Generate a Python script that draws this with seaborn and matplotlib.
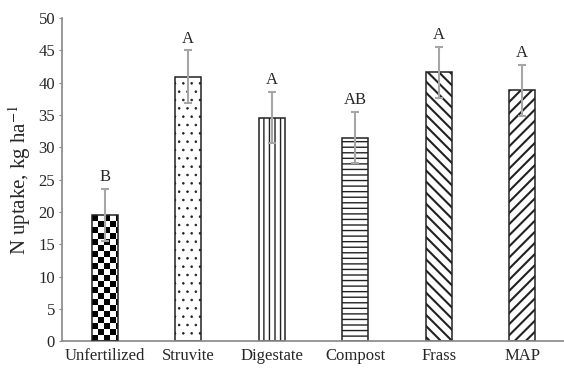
import numpy as np
import pandas as pd
import matplotlib
matplotlib.use("Agg")
import matplotlib.pyplot as plt
import seaborn as sns

# data
treatments = ["Unfertilized", "Struvite", "Digestate", "Compost", "Frass", "MAP"]
n_uptake = [19.5, 40.9, 34.6, 31.5, 41.6, 38.8]
n_err = [4.0, 4.1, 4.0, 4.0, 4.0, 4.0]
letters = ["B", "A", "A", "AB", "A", "A"]

sns.set_style("white")
plt.rcParams["font.family"] = ["Liberation Serif", "DejaVu Serif"]
plt.rcParams["hatch.linewidth"] = 1.0
plt.rcParams["mathtext.fontset"] = "stix"

df = pd.DataFrame({"treatment": treatments, "uptake": n_uptake})

fig = plt.figure(figsize=(5.64, 3.70), dpi=100)
ax = fig.add_axes([0.11, 0.078, 0.89, 0.873])

sns.barplot(data=df, x="treatment", y="uptake", color="white", width=0.31,
            edgecolor="#222222", linewidth=1.1, errorbar=None, ax=ax)

hatches = [None, "..", "|||", "---", "\\\\\\", "///"]
hatch_lw = [1.0, 0.6, 1.0, 1.0, 1.5, 1.5]
hatch_col = ["#222222", "#555555", "#222222", "#222222", "#111111", "#111111"]
px_per_unit_y = 323 / 50.0
px_per_unit_x = 84.0
for i, p in enumerate(ax.patches):
    if hatches[i]:
        p.set_hatch(hatches[i])
        if hasattr(p, "set_hatch_linewidth"):
            p.set_hatch_linewidth(hatch_lw[i])
        if hasattr(p, "set_hatchcolor"):
            p.set_hatchcolor(hatch_col[i])
    if i == 0:
        # checkerboard fill for the control bar
        x0, y0 = p.get_x(), p.get_y()
        w, h = p.get_width(), p.get_height()
        cell_px = 6.0
        nx = int(np.ceil(w * px_per_unit_x / cell_px))
        ny = int(np.ceil(h * px_per_unit_y / cell_px))
        board = (np.add.outer(np.arange(ny), np.arange(nx)) % 2).astype(float)
        im = ax.imshow(board, cmap="gray",
                       extent=(x0, x0 + nx * cell_px / px_per_unit_x, y0, y0 + ny * cell_px / px_per_unit_y),
                       origin="lower", aspect="auto", interpolation="nearest", zorder=2)
        im.set_clip_path(p)
        p.set_zorder(3)
        p.set_facecolor("none")

xs = np.arange(len(treatments))
ax.errorbar(xs, n_uptake, yerr=n_err, fmt="none", ecolor="#a6a6a6",
            elinewidth=1.5, capsize=3, capthick=1.5, zorder=4)

for x, v, e, lab in zip(xs, n_uptake, n_err, letters):
    ax.text(x, v + e + 0.6, lab, ha="center", va="bottom", fontsize=12)

ax.set_ylim(0, 50)
ax.set_xlim(-0.51, 5.5)
ax.set_yticks(range(0, 51, 5))
ax.set_ylabel("N uptake, kg ha$^{-1}$", fontsize=15, labelpad=4)
ax.set_xlabel("")
ax.tick_params(axis="y", labelsize=12, length=2, direction="out", left=True, color="#888888", pad=3)
ax.tick_params(axis="x", labelsize=12, length=0, pad=5)
sns.despine(ax=ax)
for s in ["left", "bottom"]:
    ax.spines[s].set_color("#888888")
    ax.spines[s].set_linewidth(1.2)

fig.savefig("out.png", dpi=100)
